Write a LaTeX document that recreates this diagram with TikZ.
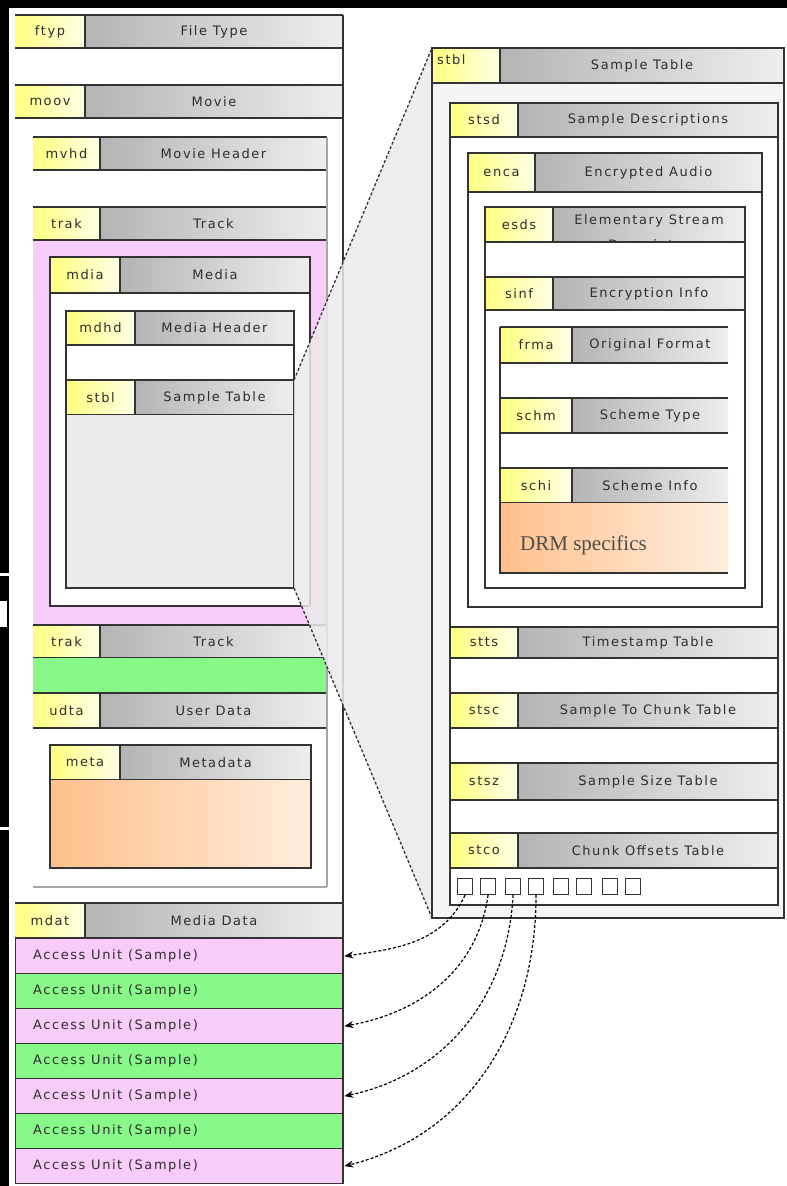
\documentclass[tikz,border=0pt]{standalone}
\usepackage{fontspec}
\usepackage{xcolor}
\usepackage{tikz}
\usetikzlibrary{arrows.meta}
\newfontfamily\atomfont{DejaVu Sans}[LetterSpace=12]
\newfontfamily\drmfont{Liberation Serif}

\definecolor{tagL}{HTML}{FFFF80}
\definecolor{tagR}{HTML}{FFFFE6}
\definecolor{hdL}{HTML}{B4B4B4}
\definecolor{hdR}{HTML}{EEEEEE}
\definecolor{boxline}{HTML}{333333}
\definecolor{pinkau}{HTML}{F8CCF8}
\definecolor{greenau}{HTML}{88F888}
\definecolor{orgL}{HTML}{FFC08C}
\definecolor{orgR}{HTML}{FFEEDD}
\definecolor{bodygray}{HTML}{EBEBEB}
\definecolor{txt}{HTML}{2E2E2E}

% header row of one atom: name, left, right, top, bottom, tag edge, tag, label
\newcommand{\atomhead}[8]{%
  \shade[left color=tagL, right color=tagR] (#2,#4) rectangle (#6,#5);
  \shade[left color=hdL, right color=hdR] (#6,#4) rectangle (#3,#5);
  \draw[atomline] (#2,#4) -- (#3,#4) (#2,#5) -- (#3,#5) (#6,#4) -- (#6,#5);
  \node[atomtext] (#1-tag) at ({(#2+#6)/2},{(#4+#5)/2}) {#7};
  \node[atomtext] (#1-lbl) at ({(#6+#3)/2},{(#4+#5)/2}) {#8};
}

\begin{document}
\begin{tikzpicture}[x=1pt,y=-1pt,
    atomline/.style={draw=boxline, line width=1.6pt},
    lightline/.style={draw=black!35, line width=1.2pt},
    atomtext/.style={text=txt, font=\atomfont\fontsize{13}{15}\selectfont, inner sep=0pt},
    zoomline/.style={draw=boxline, densely dashed, line width=1.3pt},
    ptrline/.style={draw=black, densely dashed, line width=1.2pt, -{Stealth[length=9pt,width=7pt]}},
    chunk/.style={draw=boxline, line width=1.1pt, fill=white, minimum width=15pt, minimum height=16pt, inner sep=0pt, anchor=north west},
    aurow/.style={draw=boxline, line width=1.3pt, minimum width=328pt, minimum height=35pt, inner sep=0pt, anchor=north west}]
\useasboundingbox (0,0) rectangle (787,1186);
\fill[white] (0,0) rectangle (787,1186);

% file column
\fill[white] (15,15) rectangle (343,1183);
\atomhead{ftyp}{15}{343}{15}{48}{85}{ftyp}{File Type}
\atomhead{moov}{15}{343}{85}{118}{85}{moov}{Movie}
\atomhead{mvhd}{33}{327}{137}{170}{100}{mvhd}{Movie Header}
\atomhead{trak}{33}{327}{207}{240}{100}{trak}{Track}
\fill[pinkau] (33,241) rectangle (327,625);
\fill[white] (50,293) rectangle (310,606);
\atomhead{mdia}{50}{310}{257}{293}{120}{mdia}{Media}
\draw[atomline] (50,257) rectangle (310,606);
\atomhead{mdhd}{66}{294}{311}{345}{135}{mdhd}{Media Header}
\atomhead{stbl}{66}{294}{380}{415}{135}{stbl}{Sample Table}
\fill[bodygray] (66,415) rectangle (294,588);
\draw[atomline] (66,311) rectangle (294,588);
\atomhead{trakb}{33}{327}{625}{658}{100}{trak}{Track}
\fill[greenau] (33,658) rectangle (327,693);
\atomhead{udta}{33}{327}{693}{728}{100}{udta}{User Data}
\draw[lightline] (33,887) -- (327,887);
\draw[lightline] (327,137) -- (327,887);
\atomhead{meta}{50}{311}{745}{780}{120}{meta}{Metadata}
\shade[left color=orgL, right color=orgR] (50,780) rectangle (311,868);
\draw[atomline] (50,745) rectangle (311,868);
\atomhead{mdat}{15}{343}{903}{938}{85}{mdat}{Media Data}
\foreach \i/\col in {1/pinkau,2/greenau,3/pinkau,4/greenau,5/pinkau,6/greenau,7/pinkau}
  {
  \node[aurow, fill=\col] (au\i) at (15,{938+35*(\i-1)}) {};
  \node[atomtext, anchor=west] (aut\i) at ([xshift=18pt]au\i.west) {Access Unit (Sample)};
  }
\draw[atomline] (343,15) -- (343,1183);

% zoom onto the sample table
\coordinate (zA) at (294,380);
\coordinate (zB) at (432,48);
\coordinate (zC) at (432,918);
\coordinate (zD) at (294,588);
\fill[bodygray, fill opacity=0.85] (zA) -- (zB) -- (zC) -- (zD) -- cycle;
\draw[zoomline] (zA) -- (zB);
\draw[zoomline] (zD) -- (zC);

% sample table, enlarged
\fill[black!4] (432,48) rectangle (784,918);
\atomhead{stblz}{432}{784}{48}{83}{500}{}{Sample Table}
\node[atomtext, anchor=north west] (stblz-name) at (437,54) {stbl};
\draw[atomline] (432,48) rectangle (784,918);
\fill[white] (450,137) rectangle (778,627);
\atomhead{stsd}{450}{778}{103}{137}{518}{stsd}{Sample Descriptions}
\draw[atomline] (450,103) rectangle (778,627);
\atomhead{enca}{468}{762}{153}{192}{535}{enca}{Encrypted Audio}
\draw[atomline] (468,153) rectangle (762,607);
\atomhead{esds}{485}{745}{207}{242}{553}{esds}{}
\begin{scope}
  \clip (553,207) rectangle (745,241);
  \node[atomtext] (esds-top) at (649,221) {Elementary Stream};
  \node[atomtext] (esds-bot) at (649,246) {Descriptor};
\end{scope}
\atomhead{sinf}{485}{745}{277}{310}{553}{sinf}{Encryption Info}
\draw[atomline] (485,207) rectangle (745,588);
\atomhead{frma}{500}{728}{327}{363}{572}{frma}{Original Format}
\atomhead{schm}{500}{728}{398}{433}{572}{schm}{Scheme Type}
\atomhead{schi}{500}{728}{468}{503}{572}{schi}{Scheme Info}
\shade[left color=orgL, right color=orgR] (500,503) rectangle (728,573);
\draw[atomline] (728,573) -- (500,573) -- (500,327);
\node[anchor=west, text=black!70, font=\drmfont\fontsize{21}{24}\selectfont, inner sep=0pt] (drm) at (520,545) {DRM specifics};
\fill[white] (450,627) rectangle (778,905);
\atomhead{stts}{450}{778}{627}{658}{518}{stts}{Timestamp Table}
\atomhead{stsc}{450}{778}{693}{728}{518}{stsc}{Sample To Chunk Table}
\atomhead{stsz}{450}{778}{763}{800}{518}{stsz}{Sample Size Table}
\atomhead{stco}{450}{778}{833}{868}{518}{stco}{Chunk Offsets Table}
\draw[atomline] (450,627) rectangle (778,905);
\foreach \x [count=\k] in {457,480,505,528,553,576,602,625}
  \node[chunk] (ch\k) at (\x,878) {};

% chunk offsets point into the media data
\draw[ptrline] (ch1.south) to[out=-115,in=8] (au1.east);
\draw[ptrline] (ch2.south) to[out=-98,in=10] (au3.east);
\draw[ptrline] (ch3.south) to[out=-93,in=12] (au5.east);
\draw[ptrline] (ch4.south) to[out=-90,in=14] (au7.east);

% screen edges
\fill[black] (0,0) rectangle (787,8);
\fill[black] (0,0) rectangle (9,1186);
\fill[white] (0,573) rectangle (9,576);
\fill[white] (0,601) rectangle (7,627);
\fill[white] (0,827) rectangle (9,830);
\end{tikzpicture}
\end{document}
